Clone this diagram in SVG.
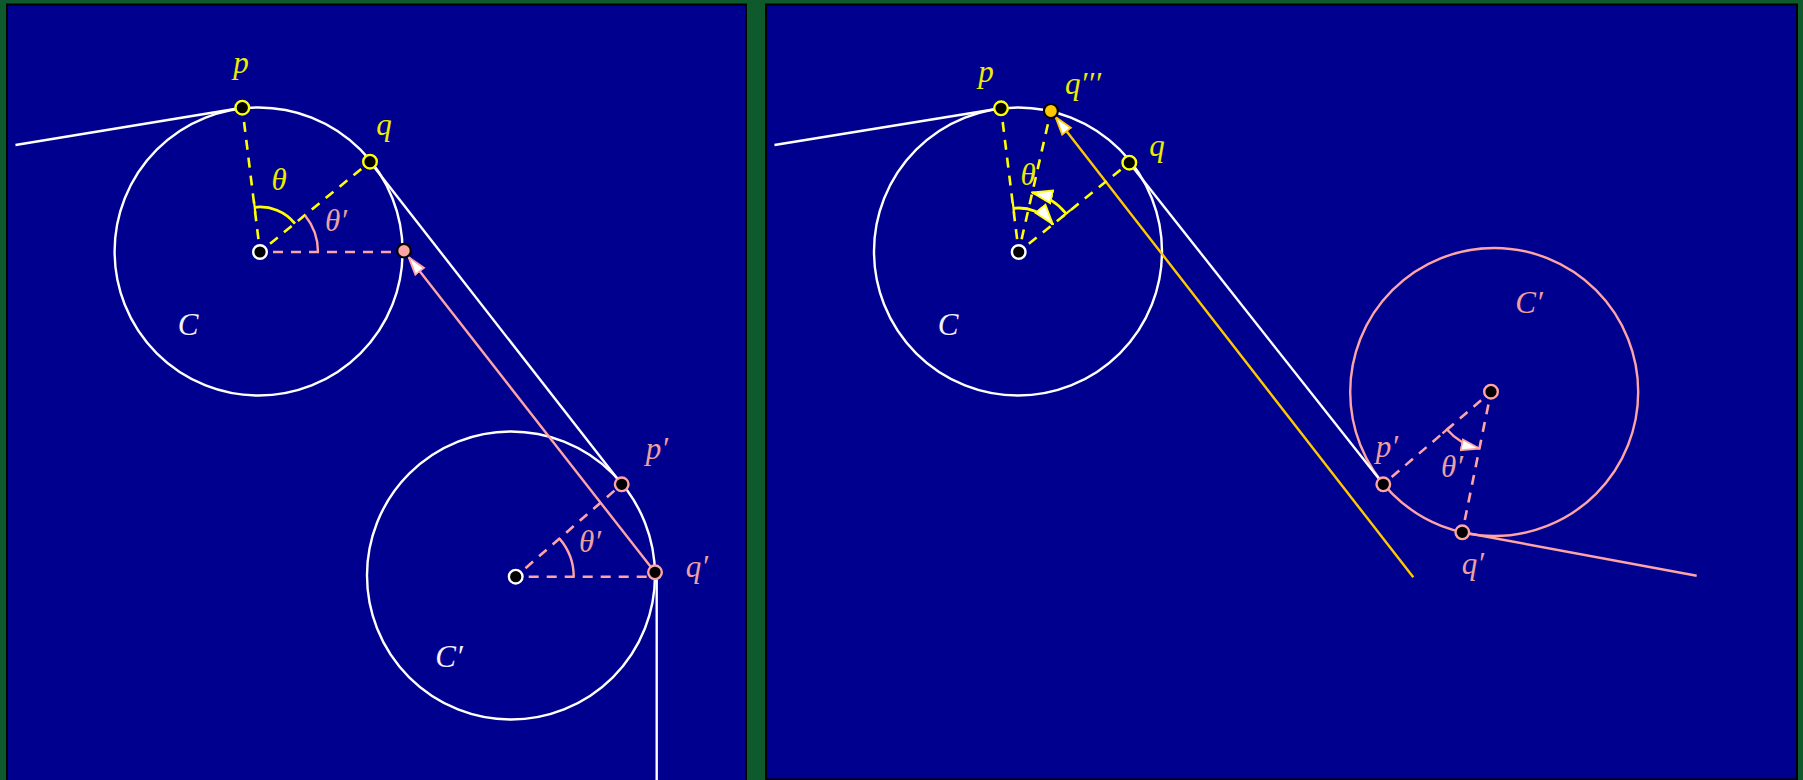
<svg xmlns="http://www.w3.org/2000/svg" width="1803" height="780" viewBox="0 0 1803 780">
<style>
.panel{fill:#00008f;stroke:#000;stroke-width:2}
.wc{fill:none;stroke:#fff;stroke-width:2.4}
.pc{fill:none;stroke:#ffa4a4;stroke-width:2.4}
.wl{fill:none;stroke:#fff;stroke-width:2.4}
.pl{fill:none;stroke:#ffa4a4;stroke-width:2.4}
.gl{fill:none;stroke:#ffc800;stroke-width:2.4}
.yd{fill:none;stroke:#ffff00;stroke-width:2.6;stroke-dasharray:10 8;stroke-dashoffset:5}
.pd{fill:none;stroke:#ffa4a4;stroke-width:2.6;stroke-dasharray:10 8;stroke-dashoffset:5}
.ya{fill:none;stroke:#ffff00;stroke-width:2.8}
.pa{fill:none;stroke:#ffa4a4;stroke-width:2.4}
.dy{fill:#000;stroke:#ffff00;stroke-width:2.4}
.dw{fill:#000;stroke:#fff;stroke-width:2.4}
.dp{fill:#000;stroke:#ffa4a4;stroke-width:2.4}
.lbl{font-family:"Liberation Serif","Times New Roman",serif;font-style:italic;font-size:31px;text-anchor:middle}
.ty{fill:#ecec00}
.tp{fill:#eca0a0}
.tw{fill:#f2f2ff}
</style>
<defs>
<marker id="arrP" viewBox="0 0 20 14" refX="19" refY="7" markerWidth="20" markerHeight="14" markerUnits="userSpaceOnUse" orient="auto">
<path d="M1,1.5 L19,7 L1,12.5 Z" fill="#fff" stroke="#ffa4a4" stroke-width="1.8"/>
</marker>
<marker id="arrG" viewBox="0 0 20 14" refX="19" refY="7" markerWidth="20" markerHeight="14" markerUnits="userSpaceOnUse" orient="auto">
<path d="M1,1.5 L19,7 L1,12.5 Z" fill="#fff" stroke="#ffc800" stroke-width="1.8"/>
</marker>
<marker id="arrY" viewBox="0 0 22 16" refX="21" refY="8" markerWidth="22" markerHeight="16" markerUnits="userSpaceOnUse" orient="auto">
<path d="M1,1.5 L21,8 L1,14.5 Z" fill="#fff" stroke="#ffff00" stroke-width="1.8"/>
</marker>
<marker id="barY" viewBox="-2 -7 4 14" refX="0" refY="0" markerWidth="4" markerHeight="14" markerUnits="userSpaceOnUse" orient="auto">
<path d="M0,-6 L0,6" stroke="#ffff00" stroke-width="2.2"/>
</marker>
<marker id="barP" viewBox="-2 -7 4 14" refX="0" refY="0" markerWidth="4" markerHeight="14" markerUnits="userSpaceOnUse" orient="auto">
<path d="M0,-6 L0,6" stroke="#ffa4a4" stroke-width="2.2"/>
</marker>
</defs>
<rect x="0" y="0" width="1803" height="780" fill="#0e5a2c"/>
<rect class="panel" x="7" y="4.5" width="739" height="790"/>
<rect class="panel" x="766" y="4.5" width="1031" height="775"/>

<!-- LEFT PANEL -->
<g id="left-circle-C"><circle class="wc" cx="258.6" cy="251.5" r="144"/></g>
<g id="left-circle-Cprime"><circle class="wc" cx="511" cy="575.5" r="144"/></g>

<g id="left-connectors">
<line class="wl" x1="15.5" y1="145" x2="242.3" y2="107.7"/>
<line class="wl" x1="370" y1="161.7" x2="621.7" y2="484.3"/>
<line class="wl" x1="656.7" y1="576" x2="656.7" y2="781"/>
<line class="pl" x1="655" y1="572.3" x2="408.6" y2="257.1" marker-end="url(#arrP)"/>
<line class="yd" x1="260" y1="252" x2="242.3" y2="107.7"/>
<line class="yd" x1="260" y1="252" x2="370" y2="161.7"/>
<line class="pd" x1="260" y1="252" x2="404" y2="252"/>
<line class="pd" x1="515.7" y1="576.7" x2="621.7" y2="484.3"/>
<line class="pd" x1="515.7" y1="576.7" x2="655" y2="576.7"/>
<path class="ya" d="M254.7,207.3 A45,45 0 0 1 295,223.7" marker-start="url(#barY)"/>
<path class="pa" d="M318,252 A58,58 0 0 0 305.1,215.5"/>
<path class="pa" d="M573.7,576.7 A58,58 0 0 0 559.5,538.6"/>
</g>

<g id="left-point-p"><circle class="dy" cx="242.3" cy="107.7" r="6.8"/><text class="lbl ty" x="241" y="73">p</text></g>
<g id="left-point-q"><circle class="dy" cx="370" cy="161.7" r="6.8"/><text class="lbl ty" x="384" y="135">q</text></g>
<g id="left-center-C"><circle class="dw" cx="260" cy="252" r="6.8"/></g>
<g id="left-point-r"><circle fill="#ffa4a4" stroke="#000" stroke-width="2.2" cx="404" cy="250.7" r="6.8"/></g>
<g id="left-center-Cprime"><circle class="dw" cx="515.7" cy="576.7" r="6.8"/></g>
<g id="left-point-pprime"><circle class="dp" cx="621.7" cy="484.3" r="6.8"/><text class="lbl tp" x="657" y="459">p′</text></g>
<g id="left-point-qprime"><circle class="dp" cx="655" cy="572.3" r="6.8"/><text class="lbl tp" x="697" y="577">q′</text></g>
<g id="left-labels">
<text class="lbl ty" x="279" y="190">θ</text>
<text class="lbl tp" x="336" y="231">θ′</text>
<text class="lbl tw" x="188" y="335">C</text>
<text class="lbl tp" x="590" y="552">θ′</text>
<text class="lbl tw" x="449" y="667">C′</text>
</g>

<!-- RIGHT PANEL -->
<g id="right-circle-C"><circle class="wc" cx="1018" cy="251.5" r="144"/></g>
<g id="right-circle-Cprime"><circle class="pc" cx="1494.2" cy="392" r="144"/></g>

<g id="right-connectors">
<line class="wl" x1="774.5" y1="145" x2="1001" y2="108.3"/>
<line class="wl" x1="1129.3" y1="162.7" x2="1383.3" y2="484.3"/>
<line class="pl" x1="1462.3" y1="532.3" x2="1696.7" y2="575.7"/>
<line class="gl" x1="1413.3" y1="577.3" x2="1055.5" y2="117" marker-end="url(#arrG)"/>
<line class="yd" x1="1018.7" y1="252" x2="1001" y2="108.3"/>
<line class="yd" x1="1018.7" y1="252" x2="1050.9" y2="111"/>
<line class="yd" x1="1018.7" y1="252" x2="1129.3" y2="162.7"/>
<line class="pd" x1="1491" y1="391.7" x2="1383.3" y2="484.3"/>
<line class="pd" x1="1491" y1="391.7" x2="1462.3" y2="532.3"/>
<path class="ya" d="M1013.5,208.3 A44,44 0 0 1 1052.9,224.3" marker-start="url(#barY)" marker-end="url(#arrY)"/>
<path class="ya" d="M1066.1,213.6 A61,61 0 0 0 1032.2,192.5" marker-start="url(#barY)" marker-end="url(#arrY)"/>
<path class="pa" d="M1447,429.5 A58,58 0 0 0 1479.4,448.5" marker-start="url(#barP)" marker-end="url(#arrP)"/>
</g>

<g id="right-point-p"><circle class="dy" cx="1001" cy="108.3" r="6.8"/><text class="lbl ty" x="986" y="82">p</text></g>
<g id="right-point-q3"><circle fill="#ffc800" stroke="#000" stroke-width="2.2" cx="1050.9" cy="111" r="7"/><text class="lbl ty" x="1083" y="94">q′′′</text></g>
<g id="right-point-q"><circle class="dy" cx="1129.3" cy="162.7" r="6.8"/><text class="lbl ty" x="1157" y="156">q</text></g>
<g id="right-center-C"><circle class="dw" cx="1018.7" cy="252" r="6.8"/></g>
<g id="right-center-Cprime"><circle class="dp" cx="1491" cy="391.7" r="6.8"/></g>
<g id="right-point-pprime"><circle class="dp" cx="1383.3" cy="484.3" r="6.8"/><text class="lbl tp" x="1387" y="457">p′</text></g>
<g id="right-point-qprime"><circle class="dp" cx="1462.3" cy="532.3" r="6.8"/><text class="lbl tp" x="1473" y="574">q′</text></g>
<g id="right-labels">
<text class="lbl ty" x="1028" y="185">θ</text>
<text class="lbl tw" x="948" y="335">C</text>
<text class="lbl tp" x="1529" y="313">C′</text>
<text class="lbl tp" x="1452" y="477">θ′</text>
</g>
</svg>
